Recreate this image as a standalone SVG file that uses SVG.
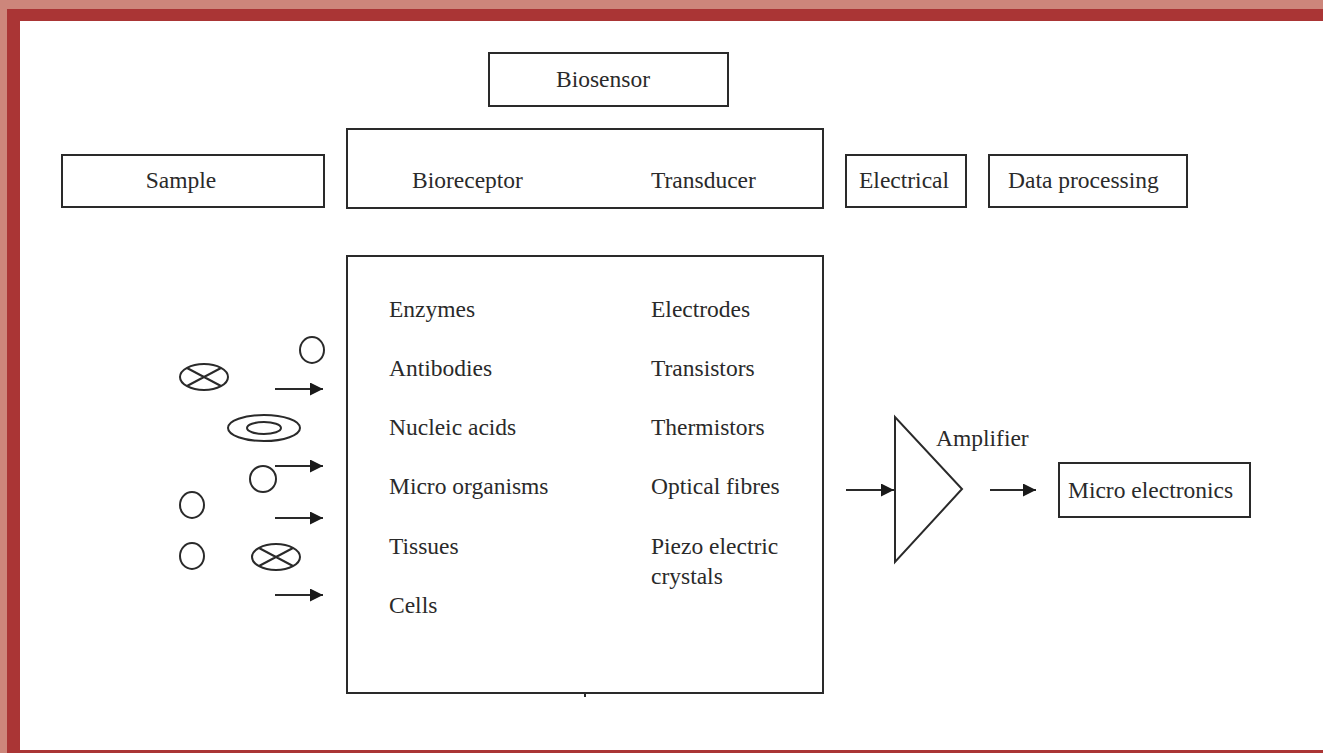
<svg xmlns="http://www.w3.org/2000/svg" width="1323" height="753" viewBox="0 0 1323 753">
<style>
.box{fill:#fff;stroke:#2a2a2a;stroke-width:2}
.sh{fill:none;stroke:#2a2a2a;stroke-width:2}
.t{font-family:"Liberation Serif","Times New Roman",serif;font-size:23.5px;fill:#2a2a2a}
.c{text-anchor:middle}
.ln{stroke:#2a2a2a;stroke-width:2;fill:none}
</style>
<defs>
<marker id="ah" viewBox="0 0 10 10" refX="10" refY="5" markerWidth="13" markerHeight="13" markerUnits="userSpaceOnUse" orient="auto">
<path d="M0,0 L10,5 L0,10 z" fill="#1a1a1a"/>
</marker>
</defs>
<rect x="0" y="0" width="1323" height="753" fill="#fff"/>
<rect x="0" y="0" width="1323" height="9" fill="#cd867b"/>
<rect x="0" y="0" width="7" height="753" fill="#cd867b"/>
<rect x="7" y="9" width="1316" height="12" fill="#aa3535"/>
<rect x="7" y="9" width="13" height="744" fill="#aa3535"/>
<rect x="20" y="750" width="1303" height="3" fill="#aa3535"/>

<g id="biosensor"><rect class="box" x="489" y="53" width="239" height="53"/><text class="t c" x="603" y="87">Biosensor</text></g>
<g id="sensor-top"><rect class="box" x="347" y="129" width="476" height="79"/><text class="t" x="412" y="188">Bioreceptor</text><text class="t" x="651" y="188">Transducer</text></g>
<g id="sample"><rect class="box" x="62" y="155" width="262" height="52"/><text class="t c" x="181" y="188">Sample</text></g>
<g id="electrical"><rect class="box" x="846" y="155" width="120" height="52"/><text class="t" x="859" y="188">Electrical</text></g>
<g id="data-processing"><rect class="box" x="989" y="155" width="198" height="52"/><text class="t" x="1008" y="188">Data processing</text></g>

<g id="sensor-list">
<rect class="box" x="347" y="256" width="476" height="437"/>
<line class="ln" x1="585" y1="693" x2="585" y2="697"/>
<text class="t" x="389" y="317">Enzymes</text>
<text class="t" x="389" y="376">Antibodies</text>
<text class="t" x="389" y="435">Nucleic acids</text>
<text class="t" x="389" y="494">Micro organisms</text>
<text class="t" x="389" y="554">Tissues</text>
<text class="t" x="389" y="613">Cells</text>
<text class="t" x="651" y="317">Electrodes</text>
<text class="t" x="651" y="376">Transistors</text>
<text class="t" x="651" y="435">Thermistors</text>
<text class="t" x="651" y="494">Optical fibres</text>
<text class="t" x="651" y="554">Piezo electric</text>
<text class="t" x="651" y="584">crystals</text>
</g>

<g id="analytes">
<ellipse class="sh" cx="312" cy="350" rx="12" ry="13"/>
<ellipse class="sh" cx="204" cy="377" rx="24" ry="13"/>
<path class="sh" d="M187,368 L221,386 M187,386 L221,368"/>
<ellipse class="sh" cx="264" cy="428" rx="36" ry="13"/>
<ellipse class="sh" cx="264" cy="428" rx="17" ry="6"/>
<ellipse class="sh" cx="263" cy="479" rx="13" ry="13"/>
<ellipse class="sh" cx="192" cy="505" rx="12" ry="13"/>
<ellipse class="sh" cx="192" cy="556" rx="12" ry="13"/>
<ellipse class="sh" cx="276" cy="557" rx="24" ry="13"/>
<path class="sh" d="M259,548 L293,566 M259,566 L293,548"/>
</g>

<g id="amplifier">
<path class="sh" d="M895,417 L895,562 L962,489 Z"/>
<text class="t" x="936" y="446">Amplifier</text>
</g>
<g id="micro-electronics"><rect class="box" x="1059" y="463" width="191" height="54"/><text class="t" x="1068" y="498">Micro electronics</text></g>

<g id="connectors">
<line class="ln" x1="275" y1="389" x2="323" y2="389" marker-end="url(#ah)"/>
<line class="ln" x1="275" y1="466" x2="323" y2="466" marker-end="url(#ah)"/>
<line class="ln" x1="275" y1="518" x2="323" y2="518" marker-end="url(#ah)"/>
<line class="ln" x1="275" y1="595" x2="323" y2="595" marker-end="url(#ah)"/>
<line class="ln" x1="846" y1="490" x2="894" y2="490" marker-end="url(#ah)"/>
<line class="ln" x1="990" y1="490" x2="1036" y2="490" marker-end="url(#ah)"/>
</g>
</svg>
